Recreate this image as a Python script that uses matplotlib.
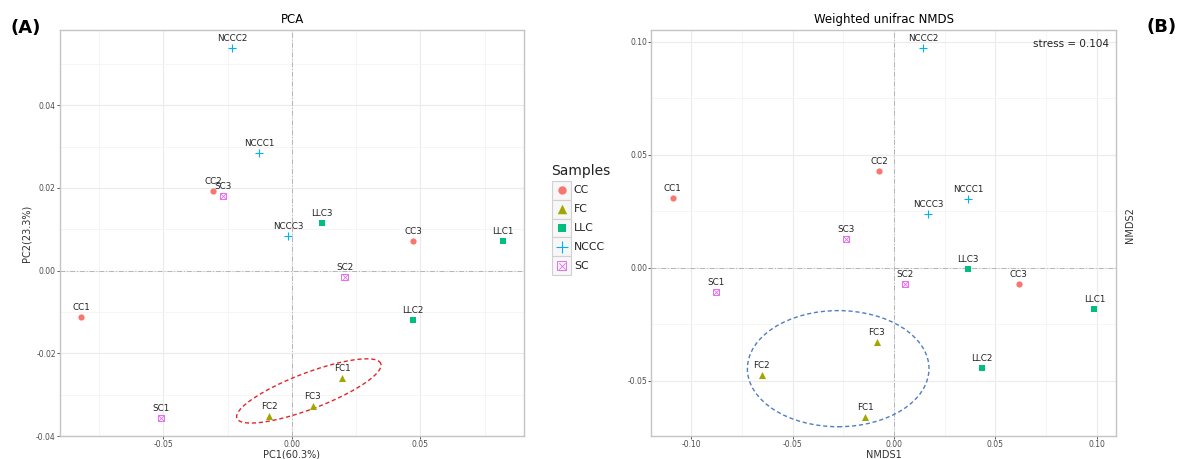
import numpy as np
import matplotlib
matplotlib.use('Agg')
import matplotlib.pyplot as plt
from matplotlib.patches import Ellipse, Rectangle

# sample names, shared by both ordinations
names = ["CC1", "CC2", "CC3", "FC1", "FC2", "FC3", "LLC1", "LLC2", "LLC3",
         "NCCC1", "NCCC2", "NCCC3", "SC1", "SC2", "SC3"]
groups = ["CC", "FC", "LLC", "NCCC", "SC"]

# PCA scores
pca_x = [-0.0820, -0.0307, 0.0472, 0.0195, -0.0088, 0.0082, 0.0822, 0.0471, 0.0117,
         -0.0126, -0.0233, -0.0014, -0.0509, 0.0205, -0.0268]
pca_y = [-0.0111, 0.0193, 0.0071, -0.0259, -0.0351, -0.0327, 0.0071, -0.0120, 0.0116,
         0.0285, 0.0538, 0.0084, -0.0356, -0.0015, 0.0180]

# weighted unifrac NMDS scores
nmds_x = [-0.1092, -0.0072, 0.0616, -0.0141, -0.0653, -0.0084, 0.0989, 0.0434, 0.0364,
          0.0367, 0.0145, 0.0168, -0.0879, 0.0054, -0.0238]
nmds_y = [0.0307, 0.0429, -0.0072, -0.0661, -0.0473, -0.0329, -0.0183, -0.0442, -0.0007,
          0.0303, 0.0971, 0.0236, -0.0109, -0.0072, 0.0126]

stress = 0.104

# group styles (ggplot default hues)
colors = {"CC": "#F8766D", "FC": "#A3A500", "LLC": "#00BF7D", "NCCC": "#00B0F6", "SC": "#E76BF3"}


def group_of(name):
    return name.rstrip("0123456789")


def draw_marker(ax, x, y, g, scale=1.0, **kw):
    c = colors[g]
    if g == "CC":
        ax.scatter(x, y, marker='o', s=20 * scale, color=c, linewidths=0, **kw)
    elif g == "FC":
        ax.scatter(x, y, marker='^', s=26 * scale, color=c, linewidths=0, **kw)
    elif g == "LLC":
        ax.scatter(x, y, marker='s', s=17 * scale, color=c, linewidths=0, **kw)
    elif g == "NCCC":
        ax.scatter(x, y, marker='+', s=40 * scale, color=c, linewidths=0.8, **kw)
    else:
        ax.scatter(x, y, marker='s', s=20 * scale, facecolors='none', edgecolors=c,
                   linewidths=0.7, **kw)
        ax.scatter(x, y, marker='x', s=12 * scale, color=c, linewidths=0.6, **kw)


def style_axes(ax, xmajor, xminor, ymajor, yminor):
    ax.set_facecolor('white')
    ax.set_xticks(xmajor)
    ax.set_xticks(xminor, minor=True)
    ax.set_yticks(ymajor)
    ax.set_yticks(yminor, minor=True)
    ax.grid(True, which='major', color='#ebebeb', lw=0.8, zorder=0)
    ax.grid(True, which='minor', color='#f4f4f4', lw=0.6, zorder=0)
    ax.set_axisbelow(True)
    for sp in ax.spines.values():
        sp.set_color('#c4c4c4')
        sp.set_linewidth(1.0)
    ax.tick_params(which='major', length=2.0, width=0.6, color='#444444',
                   labelsize=5.5, labelcolor='#4d4d4d', pad=1.0)
    ax.tick_params(which='minor', length=0)
    ax.axhline(0, color='#b5b5b5', lw=0.7, ls=(0, (5, 2, 1, 2)), zorder=1)
    ax.axvline(0, color='#b5b5b5', lw=0.7, ls=(0, (5, 2, 1, 2)), zorder=1)


def draw_points(ax, xs, ys):
    for n, x, y in zip(names, xs, ys):
        g = group_of(n)
        draw_marker(ax, x, y, g, zorder=3)
        ax.annotate(n, (x, y), xytext=(0, 6.8), textcoords='offset points',
                    ha='center', va='center', fontsize=6.3, color='#222222', zorder=4)


fig = plt.figure(figsize=(11.8, 4.59), dpi=100)

# ---- (A) PCA ----
axA = fig.add_axes([60 / 1180, 23 / 459, 464 / 1180, 406 / 459])
style_axes(axA, [-0.05, 0.0, 0.05], [-0.075, -0.025, 0.025, 0.075],
           [-0.04, -0.02, 0.0, 0.02, 0.04], [-0.03, -0.01, 0.01, 0.03, 0.05])
axA.set_xticklabels(['-0.05', '0.00', '0.05'])
axA.set_yticklabels(['-0.04', '-0.02', '0.00', '0.02', '0.04'])
axA.set_xlim(-0.0902, 0.0903)
axA.set_ylim(-0.04, 0.0582)
draw_points(axA, pca_x, pca_y)

# red dashed ellipse around FC (tilted)
ellA_c = (0.0066, -0.0291)
ellA_u = (0.0280, 0.0066)
ellA_v = (-0.0024, 0.0041)
t = np.linspace(0, 2 * np.pi, 300)
ex = ellA_c[0] + ellA_u[0] * np.cos(t) + ellA_v[0] * np.sin(t)
ey = ellA_c[1] + ellA_u[1] * np.cos(t) + ellA_v[1] * np.sin(t)
axA.plot(ex, ey, color='#e3262b', lw=1.0, ls=(0, (3, 2)), zorder=2)

axA.set_title('PCA', fontsize=8.5, pad=5)
axA.set_xlabel('PC1(60.3%)', fontsize=7, labelpad=0.5, color='#333333')
axA.set_ylabel('PC2(23.3%)', fontsize=7, labelpad=3, color='#333333')

# ---- (B) NMDS ----
axB = fig.add_axes([651.3 / 1180, 23 / 459, 464.4 / 1180, 406 / 459])
style_axes(axB, [-0.10, -0.05, 0.0, 0.05, 0.10], [-0.075, -0.025, 0.025, 0.075],
           [-0.05, 0.0, 0.05, 0.10], [-0.025, 0.025, 0.075])
axB.set_xticklabels(['-0.10', '-0.05', '0.00', '0.05', '0.10'])
axB.set_yticklabels(['-0.05', '0.00', '0.05', '0.10'])
axB.set_xlim(-0.1197, 0.1094)
axB.set_ylim(-0.0745, 0.1052)
draw_points(axB, nmds_x, nmds_y)

axB.add_patch(Ellipse((-0.0275, -0.0447), 0.0896, 0.0514, fill=False,
                      edgecolor='#4f7fbf', lw=1.0, ls=(0, (3, 2)), zorder=2))
axB.text(0.985, 0.965, 'stress = %.3f' % stress, transform=axB.transAxes,
         ha='right', va='center', fontsize=7.5, color='#222222')
axB.set_title('Weighted unifrac NMDS', fontsize=8.5, pad=5)
axB.set_xlabel('NMDS1', fontsize=7, labelpad=0.5, color='#333333')
# y label sits on the right, next to the panel
fig.text(1130.5 / 1180, 1 - 225 / 459, 'NMDS2', rotation=90, fontsize=7,
         ha='center', va='center', color='#333333')

# panel tags
fig.text(10 / 1180, 1 - 28 / 459, '(A)', fontsize=13, fontweight='bold', va='center')
fig.text(1147 / 1180, 1 - 27 / 459, '(B)', fontsize=13, fontweight='bold', va='center')

# ---- legend ----
key_h = 18.8
lax = fig.add_axes([552 / 1180, (459 - 181 - 5 * key_h) / 459, 19 / 1180, 5 * key_h / 459])
lax.set_xlim(0, 1)
lax.set_ylim(0, 5)
lax.axis('off')
for i, g in enumerate(groups):
    yc = 4.5 - i
    lax.add_patch(Rectangle((0, yc - 0.5), 1, 1, facecolor='#f7f7f7',
                            edgecolor='#d0d0d0', lw=0.8, clip_on=False))
    draw_marker(lax, 0.5, yc, g, scale=1.8, zorder=3, clip_on=False)
    lax.text(1.15, yc, g, fontsize=7.8, va='center', ha='left',
             transform=lax.transData, color='#222222')
fig.text(551 / 1180, 1 - 171 / 459, 'Samples', fontsize=10, va='center', ha='left',
         color='#222222')

fig.savefig('out.png', dpi=100)
